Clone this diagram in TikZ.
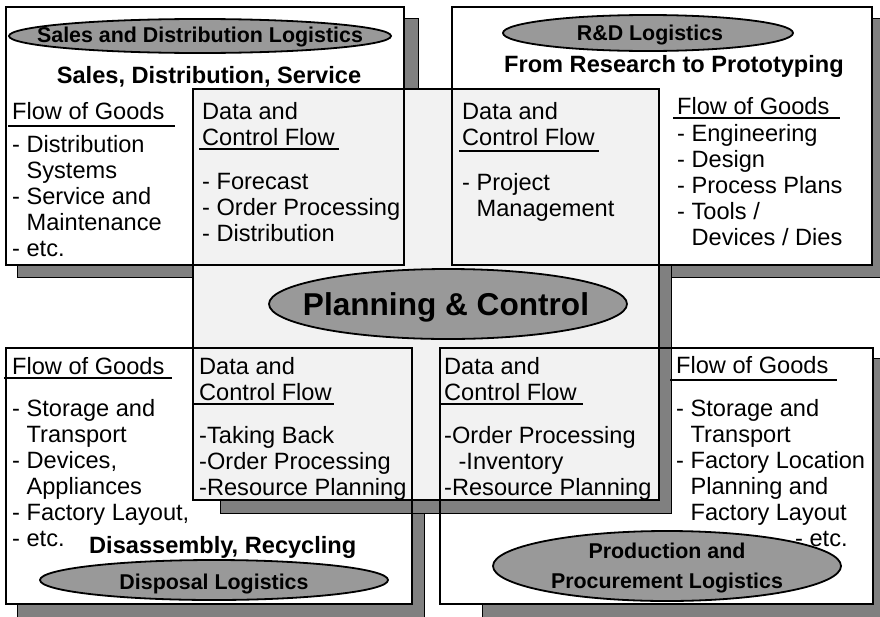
\documentclass[tikz,border=0pt]{standalone}
\usepackage{fontspec}
\setmainfont{Liberation Sans}
\usetikzlibrary{positioning}
\definecolor{shadowgray}{gray}{0.5}
\definecolor{ovalgray}{gray}{0.6}
\definecolor{panelgray}{gray}{0.95}

\begin{document}
\begin{tikzpicture}[x=1pt, y=-1pt,
    shadow/.style={fill=shadowgray, draw=black, line width=0.8pt},
    frame/.style={draw=black, line width=1.8pt},
    oval/.style={fill=ovalgray, draw=black, line width=1.8pt},
    rule/.style={draw=black, line width=2pt},
    item/.style={anchor=base west, align=left, inner sep=0pt, font=\fontsize{23.6}{26}\selectfont},
    heading/.style={anchor=base, inner sep=0pt, font=\fontsize{23.6}{26}\selectfont\bfseries},
    ovaltext/.style={anchor=base, align=center, inner sep=0pt, font=\fontsize{21.4}{29.5}\selectfont\bfseries}]

\clip (0,0) rectangle (880,616);

% shadows and white panels
\draw[shadow] (17,18) rectangle (418,277);
\draw[shadow] (464,18) rectangle (884,277);
\draw[shadow] (17,360) rectangle (424,620);
\draw[shadow] (482,358) rectangle (884,620);
\fill[white] (6,7) rectangle (404,265);
\fill[white] (452,7) rectangle (872,265);
\fill[white] (6,348) rectangle (412,604);
\fill[white] (440,348) rectangle (873,604);

% planning panel
\draw[shadow] (659,265) -- (671,265) -- (671,513) -- (220,513) -- (220,500) -- (659,500) -- cycle;
\fill[panelgray] (193,89) rectangle (659,500);
\draw[frame] (193,89) rectangle (659,500);
\draw[frame] (6,7) rectangle (404,265);
\draw[frame] (452,7) rectangle (872,265);
\draw[frame] (6,348) rectangle (412,604);
\draw[frame] (440,348) rectangle (873,604);

% sales and distribution (multi-line nodes sit on their last baseline)
\draw[oval] (200,36) ellipse [x radius=191, y radius=17];
\node[ovaltext] (salesoval) at (200,42) {Sales and Distribution Logistics};
\node[heading] (salestitle) at (209,83) {Sales, Distribution, Service};
\node[item] (salesgoods) at (12,119) {Flow of Goods};
\draw[rule] (8,126) -- (175,126);
\node[item] (salesgoodslist) at (12,256) {- Distribution\\\phantom{- }Systems\\- Service and\\\phantom{- }Maintenance\\- etc.};
\node[item] (salesdata) at (202,145) {Data and\\Control Flow};
\draw[rule] (199,149) -- (339,149);
\node[item] (salesdatalist) at (202,241) {- Forecast\\- Order Processing\\- Distribution};

% research and development
\draw[oval] (648,33) ellipse [x radius=145, y radius=18];
\node[ovaltext] (rdoval) at (650,40) {R\&D Logistics};
\node[heading] (rdtitle) at (674,72) {From Research to Prototyping};
\node[item] (rddata) at (462,145) {Data and\\Control Flow};
\draw[rule] (459,151) -- (599,151);
\node[item] (rddatalist) at (462,216) {- Project\\\phantom{- }Management};
\node[item] (rdgoods) at (677,114) {Flow of Goods};
\draw[rule] (673,118) -- (840,118);
\node[item] (rdgoodslist) at (677,245) {- Engineering\\- Design\\- Process Plans\\- Tools /\\\phantom{- }Devices / Dies};

% disposal
\node[item] (dispgoods) at (12,374) {Flow of Goods};
\draw[rule] (4,378) -- (172,378);
\node[item] (dispgoodslist) at (12,546) {- Storage and\\\phantom{- }Transport\\- Devices,\\\phantom{- }Appliances\\- Factory Layout,\\- etc.};
\node[heading, anchor=base west] (disptitle) at (89,553) {Disassembly, Recycling};
\draw[oval] (214,580) ellipse [x radius=174, y radius=20];
\node[ovaltext] (dispoval) at (214,589) {Disposal Logistics};
\node[item] (dispdata) at (199,400) {Data and\\Control Flow};
\draw[rule] (193,404) -- (334,404);
\node[item] (dispdatalist) at (199,495) {-Taking Back\\-Order Processing\\-Resource Planning};

% production and procurement
\node[item] (proddata) at (444,400) {Data and\\Control Flow};
\draw[rule] (440,404) -- (583,404);
\node[item] (proddatalist) at (444,495) {-Order Processing\\\phantom{- }-Inventory\\-Resource Planning};
\node[item] (prodgoods) at (676,373) {Flow of Goods};
\draw[rule] (670,380) -- (837,380);
\node[item] (prodgoodslist) at (676,520) {- Storage and\\\phantom{- }Transport\\- Factory Location\\\phantom{- }Planning and\\\phantom{- }Factory Layout};
\draw[oval] (667,566) ellipse [x radius=174, y radius=35];
\node[ovaltext] (prodoval) at (667,588) {Production and\\Procurement Logistics};
\node[item] (prodetc) at (795,546) {- etc.};

% planning and control
\draw[oval] (448,304) ellipse [x radius=179, y radius=35];
\node[ovaltext, font=\fontsize{31.6}{36}\selectfont\bfseries] (planning) at (446,315) {Planning \& Control};
\end{tikzpicture}
\end{document}
